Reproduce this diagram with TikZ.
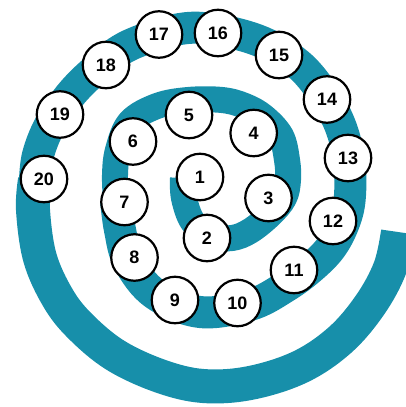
\documentclass[tikz,border=0pt]{standalone}
\usepackage{fontspec}
\setmainfont{Liberation Sans}
\definecolor{spiralteal}{RGB}{23,143,170}
\begin{document}
\begin{tikzpicture}[x=1pt,y=-1pt,
  num/.style={circle, draw=black, line width=2.2pt, fill=white,
    minimum size=46.5pt, inner sep=0pt,
    font=\fontsize{18}{18}\selectfont\bfseries},
  band/.style={draw=spiralteal, line cap=butt, line join=round}]
\useasboundingbox (0,0) rectangle (406,407);
\begin{scope}
\clip (0,0) rectangle (406,407);
\draw[band, line width=26pt] plot[smooth, tension=0.6] coordinates {
  (183,178) (184,198) (193,222) (212,236) (232,238) (250,231) (270,215)
  (284,198) (288,180) (287,160) (281,136) (264,117) (245,106) (222,100)
  (188,100) (157,106) (130,122) (118,150) (115,175) (116,200)};
\draw[band, line width=32pt] plot[smooth, tension=0.6] coordinates {
  (116,200) (120,230) (129,262) (155,294) (200,312) (250,305) (285,287)
  (312,267) (332,246) (345,220) (350,195) (349,160) (340,125) (322,92)
  (298,64) (262,42) (218,30) (180,29) (130,45) (100,66) (72,93) (50,125)
  (38,155) (35,180)};
\draw[band, line width=34pt] plot[smooth, tension=0.6] coordinates {
  (35,180) (33,210) (40,258) (58,298) (80,326) (115,355) (160,376)
  (203,386) (250,383) (300,367) (340,340) (370,305) (390,268) (398,232)};
\end{scope}
\node[num] (n1)  at (200,177)   {1};
\node[num] (n2)  at (207,238)   {2};
\node[num] (n3)  at (268.5,198) {3};
\node[num] (n4)  at (253.7,133) {4};
\node[num] (n5)  at (189,115)   {5};
\node[num] (n6)  at (133,141.5) {6};
\node[num] (n7)  at (124.5,202) {7};
\node[num] (n8)  at (134.5,257.5) {8};
\node[num] (n9)  at (175,300)   {9};
\node[num] (n10) at (237.5,303) {10};
\node[num] (n11) at (294,270)   {11};
\node[num] (n12) at (333,221)   {12};
\node[num] (n13) at (348,158)   {13};
\node[num] (n14) at (327,99.5)  {14};
\node[num] (n15) at (279,55)    {15};
\node[num] (n16) at (218,33)    {16};
\node[num] (n17) at (159,34.5)  {17};
\node[num] (n18) at (106,65)    {18};
\node[num] (n19) at (60,114.5)  {19};
\node[num] (n20) at (44,179)    {20};
\end{tikzpicture}
\end{document}
